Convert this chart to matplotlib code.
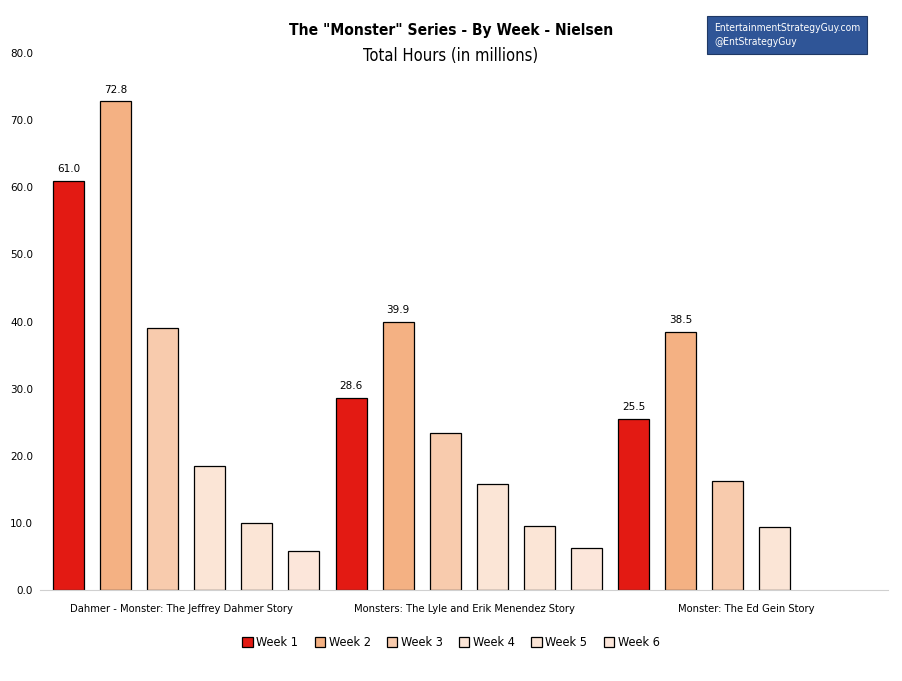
import matplotlib
matplotlib.use('Agg')
import matplotlib.pyplot as plt
import numpy as np
from matplotlib import font_manager

shows = ['Dahmer - Monster: The Jeffrey Dahmer Story',
         'Monsters: The Lyle and Erik Menendez Story',
         'Monster: The Ed Gein Story']
weeks = ['Week 1', 'Week 2', 'Week 3', 'Week 4', 'Week 5', 'Week 6']

# hours (millions) per week, one value per show; None = no data
week1 = [61.0, 28.6, 25.5]
week2 = [72.8, 39.9, 38.5]
week3 = [39.1, 23.4, 16.3]
week4 = [18.5, 15.8, 9.4]
week5 = [10.0, 9.6, None]
week6 = [5.8, 6.3, None]
series = [week1, week2, week3, week4, week5, week6]

colors = ['#E31A13', '#F4B183', '#F8CBAD', '#FBE5D6', '#FBE5D6', '#FCE6DA']

names = {f.name for f in font_manager.fontManager.ttflist}
narrow = 'Liberation Sans Narrow' if 'Liberation Sans Narrow' in names else 'DejaVu Sans'
plt.rcParams['font.family'] = [narrow, 'DejaVu Sans']
plt.rcParams['font.stretch'] = 'condensed'

fig = plt.figure(figsize=(9.02, 6.81), dpi=100)
ax = fig.add_axes([40 / 902, 1 - 590 / 681, 848 / 902, 537 / 681])

x = np.arange(len(shows))
step = 0.1663
width = 0.11
for k, (vals, col, lab) in enumerate(zip(series, colors, weeks)):
    xs = [xi - 0.399 + k * step for xi, v in zip(x, vals) if v is not None]
    ys = [v for v in vals if v is not None]
    bars = ax.bar(xs, ys, width=width, color=col, edgecolor='black',
                  linewidth=0.9, label=lab)
    if k < 2:
        for b, v in zip(bars, ys):
            ax.text(b.get_x() + b.get_width() / 2, v + 1.0, '%.1f' % v,
                    ha='center', va='bottom', fontsize=7.5,
                    family='DejaVu Sans', stretch='normal')

ax.set_xlim(-0.5, 2.5)
ax.set_ylim(0, 80)
ticks = np.arange(0, 81, 10)
ax.set_yticks(ticks)
ax.set_yticklabels(['%.1f' % t for t in ticks], fontsize=7.5,
                   family='DejaVu Sans', stretch='normal')
ax.set_xticks(x)
ax.set_xticklabels(shows, fontsize=8)
ax.tick_params(axis='both', length=0)
ax.tick_params(axis='x', pad=10)
ax.tick_params(axis='y', pad=5)
for s in ['top', 'right', 'left']:
    ax.spines[s].set_visible(False)
ax.spines['bottom'].set_color('#D0D0D0')

fig.text(0.5, 1 - 30 / 681, 'The "Monster" Series - By Week - Nielsen',
         ha='center', va='center', fontsize=11.2, fontweight='bold')
fig.text(0.5, 1 - 56 / 681, 'Total Hours (in millions)',
         ha='center', va='center', fontsize=11.9)

fig.text(714 / 902, 1 - 35 / 681,
         'EntertainmentStrategyGuy.com\n@EntStrategyGuy',
         ha='left', va='center', fontsize=7.4, color='white', linespacing=1.4,
         bbox=dict(boxstyle='square,pad=0.7', facecolor='#2F5597',
                   edgecolor='#1F3864', linewidth=0.8))

fig.legend(loc='center', bbox_to_anchor=(0.5, 1 - 643 / 681), ncol=6,
           frameon=False, fontsize=9.1, handlelength=0.8, handleheight=0.8,
           handletextpad=0.3, columnspacing=1.3)

fig.savefig('out.png', dpi=100)
